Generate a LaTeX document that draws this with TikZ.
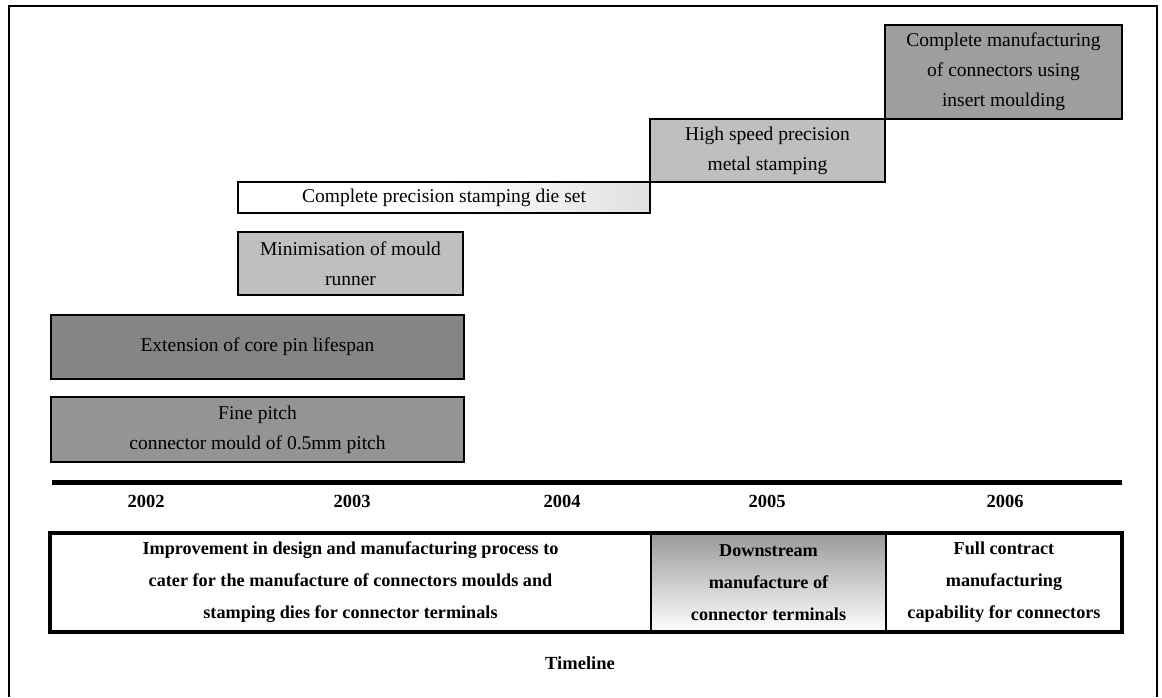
\documentclass[tikz,border=0pt]{standalone}
\usepackage{fontspec}
\setmainfont{Liberation Serif}
\begin{document}
\begin{tikzpicture}[x=1pt,y=-1pt,
  box/.style={draw=black, line width=2pt, inner sep=0pt, align=center,
    font=\fontsize{19.5}{30}\selectfont},
  yr/.style={font=\fontsize{18.5}{20}\selectfont\bfseries},
  cell/.style={inner sep=0pt, align=center, font=\fontsize{18.2}{32}\selectfont\bfseries}]
\useasboundingbox (0,0) rectangle (1162,697);
% frame
\draw[line width=1.5pt] (9,697) -- (9,6) -- (1157,6) -- (1157,697);
% activity boxes
\node[box, fill=black!38, minimum width=237pt, minimum height=94pt] (cm) at (1003.5,72)
  {Complete manufacturing\\ of connectors using\\ insert moulding};
\node[box, fill=black!25, minimum width=235pt, minimum height=63pt] (hs) at (767.5,150.5)
  {High speed precision\\ metal stamping};
\node[box, left color=white, right color=black!12, middle color=white, minimum width=412pt, minimum height=31pt] (cp) at (444,197.5)
  {Complete precision stamping die set};
\node[box, fill=black!25, minimum width=225pt, minimum height=63pt] (mm) at (350.5,263.5)
  {Minimisation of mould\\ runner};
\node[box, fill=black!48, minimum width=413pt, minimum height=64pt] (ec) at (257.5,347)
  {Extension of core pin lifespan};
\node[box, fill=black!42, minimum width=413pt, minimum height=65pt] (fp) at (257.5,429.5)
  {Fine pitch\\ connector mould of 0.5mm pitch};
% timeline axis
\coordinate (axL) at (52,482);
\coordinate (axR) at (1122,482);
\draw[line width=5pt] (axL) -- (axR);
\node[yr] (y2002) at (146,501) {2002};
\node[yr] (y2003) at (352,501) {2003};
\node[yr] (y2004) at (562,501) {2004};
\node[yr] (y2005) at (767,501) {2005};
\node[yr] (y2006) at (1005,501) {2006};
% bottom phases
\shade[top color=black!40, bottom color=white] (651,533) rectangle (886,632);
\node[cell, minimum width=600pt, minimum height=99pt] (ph1) at (350.5,582.5)
  {Improvement in design and manufacturing process to\\ cater for the manufacture of connectors moulds and\\ stamping dies for connector terminals};
\node[cell, minimum width=235pt, minimum height=99pt] (ph2) at (768.5,582.5)
  {Downstream\\ manufacture of\\ connector terminals};
\node[cell, minimum width=236pt, minimum height=99pt] (ph3) at (1004,582.5)
  {Full contract\\ manufacturing\\ capability for connectors};
\draw[line width=2pt] (ph2.north west) -- (ph2.south west);
\draw[line width=2pt] (ph2.north east) -- (ph2.south east);
\draw[line width=4pt] (ph1.north west) rectangle (ph3.south east);
\node[yr] (tl) at (580,663) {Timeline};
\end{tikzpicture}
\end{document}
